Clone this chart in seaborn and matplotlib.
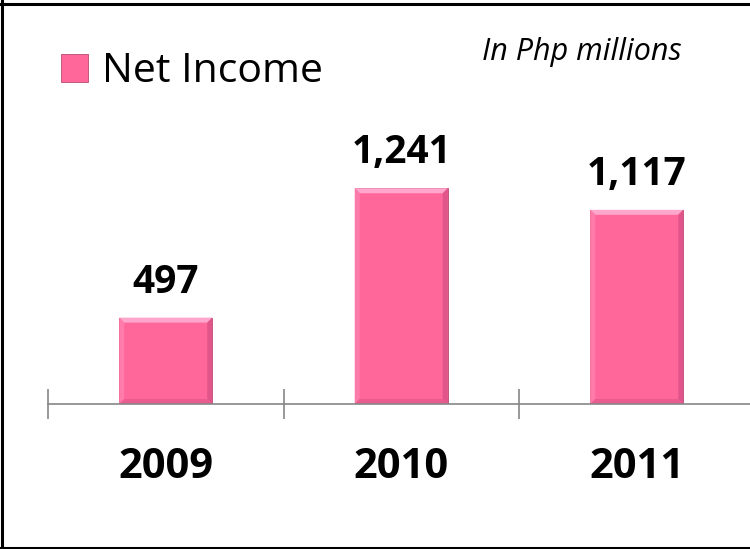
import numpy as np
import pandas as pd
import matplotlib
matplotlib.use("Agg")
import matplotlib.pyplot as plt
import seaborn as sns
from matplotlib.patches import Polygon, Rectangle
from matplotlib.lines import Line2D

# data
years = ["2009", "2010", "2011"]
net_income = [497, 1241, 1117]
value_labels = ["497", "1,241", "1,117"]
series_name = "Net Income"
unit_note = "In Php millions"

pink = "#FF6699"
edge = "#B94A74"
grey = "#868686"

sns.set_style("white")
plt.rcParams["font.family"] = ["Open Sans", "DejaVu Sans"]
plt.rcParams["text.color"] = "black"
plt.rcParams["xtick.color"] = "black"

df = pd.DataFrame({"year": years, "value": net_income, "series": [series_name] * len(years)})

W, H = 750, 549
fig = plt.figure(figsize=(7.5, 5.49), dpi=100)

# axes: baseline at y=404px, first category boundary at x=48px
ax = fig.add_axes([48 / W, (H - 404) / H, 706.5 / W, 404 / H])
sns.barplot(data=df, x="year", y="value", hue="series", palette={series_name: pink},
            saturation=1, width=0.395, edgecolor=edge, linewidth=0.6, ax=ax, legend=True)

ax.set_xlim(-0.5, 2.5)
ax.set_ylim(0, 2324)
ax.set_xlabel("")
ax.set_ylabel("")
ax.set_yticks([])
for s in ["top", "right", "left"]:
    ax.spines[s].set_visible(False)
ax.spines["bottom"].set_color(grey)
ax.spines["bottom"].set_linewidth(1.2)

# boundary ticks crossing the axis, labels at category centres
ax.set_xticks([-0.5, 0.5, 1.5, 2.5])
ax.set_xticklabels([])
ax.tick_params(axis="x", which="major", direction="inout", length=21.6, width=1.2,
               color=grey, bottom=True)
ax.set_xticks([0, 1, 2], minor=True)
ax.set_xticklabels(years, minor=True, fontsize=30, fontweight="bold")
ax.tick_params(axis="x", which="minor", length=0, pad=31, labelcolor="black")

# bevel highlights on each bar + value labels
bx = 5 / (706.5 / 3)
by = 5 / (404 / 2324)
for bar, lab in zip(ax.patches, value_labels):
    x0, y0 = bar.get_x(), bar.get_y()
    w, h = bar.get_width(), bar.get_height()
    z = bar.get_zorder() + 0.1
    x1, y1 = x0 + w, y0 + h
    top = Polygon([(x0, y1), (x1, y1), (x1 - bx, y1 - by), (x0 + bx, y1 - by)],
                  facecolor="#FFA6CC", edgecolor="none", zorder=z)
    left = Polygon([(x0, y0), (x0, y1), (x0 + bx, y1 - by), (x0 + bx, y0 + by)],
                   facecolor="#FF7BAA", edgecolor="none", zorder=z)
    right = Polygon([(x1, y0), (x1, y1), (x1 - bx, y1 - by), (x1 - bx, y0 + by)],
                    facecolor="#E0568A", edgecolor="none", zorder=z)
    bottom = Polygon([(x0, y0), (x1, y0), (x1 - bx, y0 + by), (x0 + bx, y0 + by)],
                     facecolor="#E85C8F", edgecolor="none", zorder=z)
    for p in (top, left, right, bottom):
        ax.add_patch(p)
    ax.annotate(lab, (x0 + w / 2, y1), xytext=(0, 18), textcoords="offset points",
                ha="center", va="baseline", fontsize=28, fontweight="bold")

# legend top-left
handles = [Rectangle((0, 0), 1, 1, facecolor=pink, edgecolor=edge, linewidth=0.6)]
ax.legend(handles, [series_name], loc="upper left", bbox_to_anchor=(61 / W, 1 - 52 / H),
          bbox_transform=fig.transFigure, frameon=False, fontsize=29.5,
          handlelength=0.66, handleheight=0.66, handletextpad=0.33,
          borderpad=0, borderaxespad=0)

fig.text(482 / W, 1 - 60 / H, unit_note, fontsize=22, fontstyle="italic",
         ha="left", va="baseline")

# outer frame (left, top, bottom visible)
fig.add_artist(Line2D([1.5 / W, 1.5 / W], [0, 1], color="black", lw=2.2))
fig.add_artist(Line2D([0, 1], [1 - 4 / H, 1 - 4 / H], color="black", lw=2.2))
fig.add_artist(Line2D([0, 1], [1.5 / H, 1.5 / H], color="black", lw=2.2))

fig.savefig("out.png", dpi=100)
